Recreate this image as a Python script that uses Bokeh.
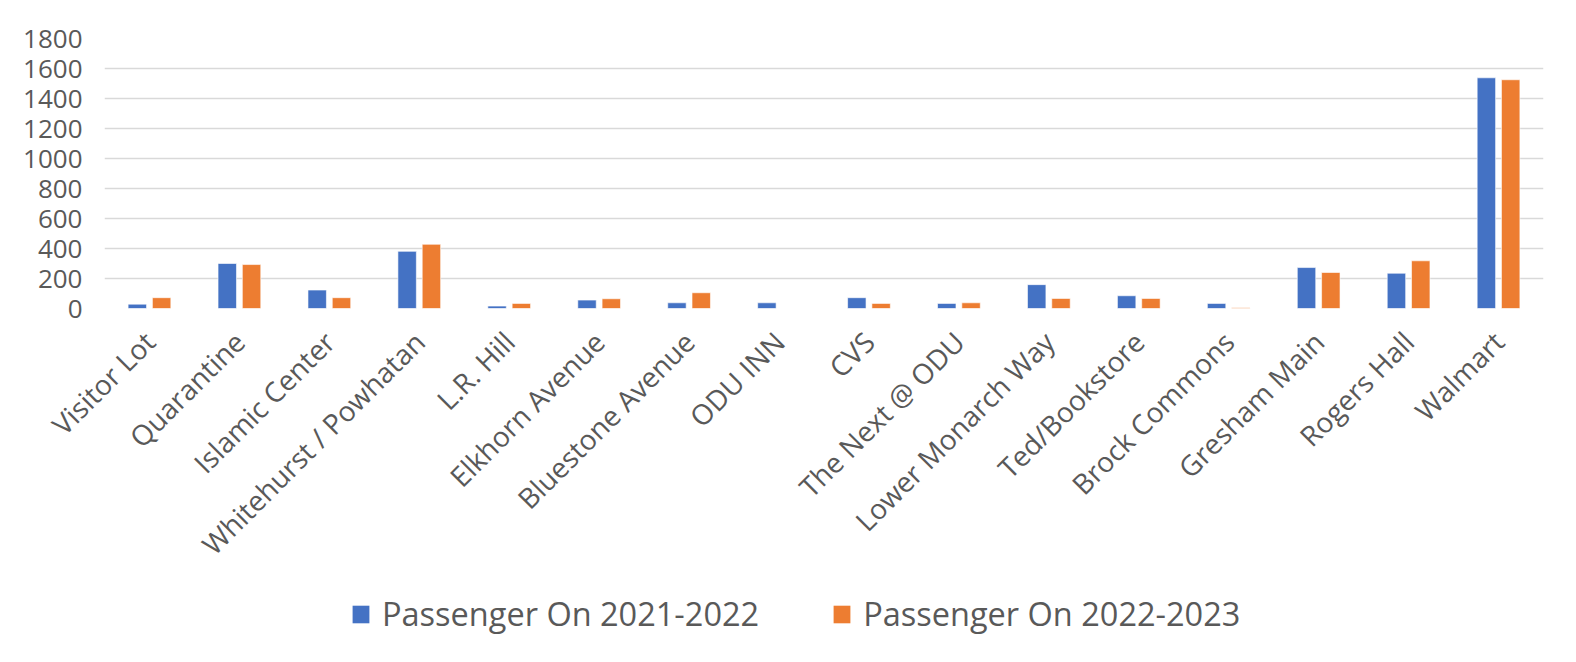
from math import pi
from bokeh.plotting import figure
from bokeh.layouts import column
from bokeh.models import ColumnDataSource, Range1d, FactorRange, Legend, LegendItem, FixedTicker
from bokeh.transform import dodge
from bokeh.embed import file_html
from bokeh.resources import INLINE

stops = ["Visitor Lot", "Quarantine", "Islamic Center", "Whitehurst / Powhatan", "L.R. Hill",
         "Elkhorn Avenue", "Bluestone Avenue", "ODU INN", "CVS", "The Next @ ODU",
         "Lower Monarch Way", "Ted/Bookstore", "Brock Commons", "Gresham Main", "Rogers Hall", "Walmart"]
on_2021_2022 = [29, 300, 123, 381, 16, 56, 38, 38, 72, 34, 159, 85, 34, 273, 235, 1538]
on_2022_2023 = [72, 293, 72, 428, 34, 65, 105, 0, 34, 38, 67, 67, 5, 240, 318, 1525]
series_names = ["Passenger On 2021-2022", "Passenger On 2022-2023"]
y_ticks = [0, 200, 400, 600, 800, 1000, 1200, 1400, 1600, 1800]

FONT = "Open Sans"
GREY = "#595959"
BLUE = "#4472C4"
ORANGE = "#ED7D31"

src = ColumnDataSource(dict(stop=stops, a=on_2021_2022, b=on_2022_2023))

p = figure(width=1560, height=578, x_range=FactorRange(*stops), y_range=Range1d(0, 1800),
           output_backend="svg", toolbar_location=None,
           min_border_left=104, min_border_right=17, min_border_top=38, min_border_bottom=264)
p.outline_line_color = None

r1 = p.vbar(x=dodge("stop", -0.135, range=p.x_range), top="a", width=0.205, source=src,
            fill_color=BLUE, line_color="white", line_width=0.6)
r2 = p.vbar(x=dodge("stop", 0.135, range=p.x_range), top="b", width=0.205, source=src,
            fill_color=ORANGE, line_color="white", line_width=0.6)

p.x_range.range_padding = 0
p.x_range.group_padding = 0

p.xgrid.grid_line_color = None
p.ygrid.grid_line_color = "#d9d9d9"
p.ygrid.grid_line_width = 1.5
p.yaxis.ticker = FixedTicker(ticks=y_ticks)

for ax in (p.xaxis, p.yaxis):
    ax.axis_line_color = None
    ax.major_tick_line_color = None
    ax.minor_tick_line_color = None
    ax.major_label_text_color = GREY
    ax.major_label_text_font = FONT

p.yaxis.major_label_text_font_size = "26px"
p.yaxis.major_label_standoff = 16
p.xaxis.major_label_text_font_size = "28px"
p.xaxis.major_label_orientation = pi / 4
p.xaxis.major_label_standoff = 22

# legend strip below the chart
lg = figure(width=1560, height=68, x_range=Range1d(0, 1), y_range=Range1d(0, 1),
            output_backend="svg", toolbar_location=None,
            min_border_left=0, min_border_right=0, min_border_top=0, min_border_bottom=0)
lg.axis.visible = False
lg.grid.visible = False
lg.outline_line_color = None
offscreen = ColumnDataSource(dict(x=[-5.0], top=[-5.0]))
l1 = lg.vbar(x="x", top="top", width=0.1, source=offscreen, fill_color=BLUE, line_color=None)
l2 = lg.vbar(x="x", top="top", width=0.1, source=offscreen, fill_color=ORANGE, line_color=None)

legend = Legend(items=[LegendItem(label=series_names[0], renderers=[l1]),
                       LegendItem(label=series_names[1], renderers=[l2])],
                orientation="horizontal", location=(246, 10),
                label_text_font=FONT, label_text_font_size="32.5px", label_text_color=GREY,
                glyph_width=21, glyph_height=22, label_standoff=11, spacing=72,
                padding=0, margin=0, border_line_color=None, background_fill_alpha=0)
lg.add_layout(legend, "center")

open("out.html", "w").write(file_html(column(p, lg, spacing=0), INLINE))
